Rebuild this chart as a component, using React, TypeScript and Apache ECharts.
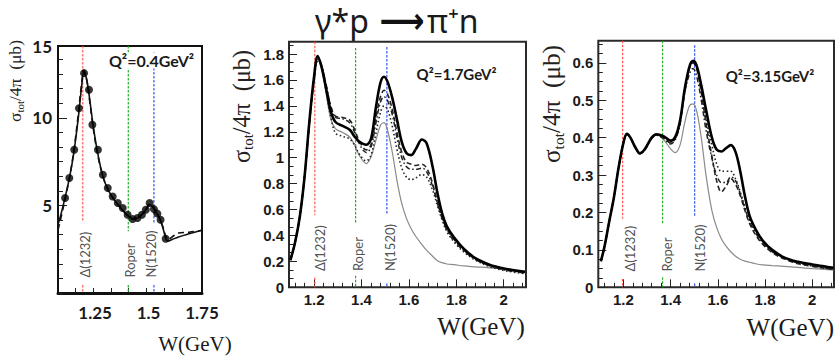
import React, { useEffect, useRef } from 'react';
import * as echarts from 'echarts';

// ---------- shared ----------
const resNames = ['Δ(1232)', 'Roper', 'N(1520)'];
const resColors = ['#ff5b4d', '#22b022', '#2f55f0'];

// ---------- left panel : Q2 = 0.4 GeV2 ----------
const leftW = [1.076, 1.09, 1.11, 1.13, 1.15, 1.17, 1.185, 1.197, 1.21, 1.225, 1.24, 1.26, 1.285, 1.31, 1.34, 1.37, 1.40, 1.43, 1.45, 1.47, 1.49, 1.505, 1.52, 1.535, 1.55, 1.565, 1.58, 1.59, 1.61, 1.64, 1.69, 1.75];
const leftSolid = [3.9, 4.5, 5.5, 6.6, 8.0, 9.9, 11.6, 12.6, 12.2, 11.0, 9.6, 8.1, 6.7, 5.9, 5.3, 4.85, 4.45, 4.22, 4.3, 4.5, 4.8, 5.05, 4.9, 4.6, 4.3, 3.8, 3.15, 2.95, 3.05, 3.2, 3.38, 3.58];
const leftDashed = [3.6, 4.3, 5.4, 6.6, 8.1, 10.1, 11.8, 12.7, 12.2, 10.9, 9.5, 8.0, 6.7, 5.9, 5.3, 4.85, 4.45, 4.2, 4.28, 4.5, 4.82, 5.1, 4.95, 4.65, 4.3, 3.85, 3.25, 3.05, 3.2, 3.42, 3.47, 3.58];
const leftDataW = [1.109, 1.129, 1.152, 1.174, 1.198, 1.221, 1.237, 1.263, 1.286, 1.309, 1.332, 1.356, 1.379, 1.402, 1.425, 1.448, 1.469, 1.487, 1.505, 1.525, 1.541, 1.556, 1.580];
const leftDataSigma = [5.42, 6.56, 8.18, 10.55, 12.55, 11.6, 9.6, 8.18, 6.75, 5.99, 5.51, 5.14, 4.85, 4.47, 4.22, 4.28, 4.47, 4.75, 5.14, 4.79, 4.53, 4.18, 3.1];
const leftRes = [1.192, 1.405, 1.525];
const leftXLabels = [1.25, 1.5, 1.75];
const leftYLabelAt = [5, 10, 14.1];
const leftYLabelText = ['5', '10', '15'];

// ---------- middle panel : Q2 = 1.7 GeV2 ----------
const midW = [1.10, 1.12, 1.14, 1.16, 1.18, 1.20, 1.215, 1.23, 1.25, 1.27, 1.29, 1.32, 1.35, 1.37, 1.39, 1.42, 1.44, 1.46, 1.48, 1.495, 1.51, 1.53, 1.55, 1.57, 1.59, 1.61, 1.63, 1.655, 1.675, 1.70, 1.72, 1.74, 1.76, 1.79, 1.83, 1.88, 1.94, 2.00, 2.05, 2.09];
const midSolid = [0.21, 0.35, 0.55, 0.86, 1.28, 1.63, 1.785, 1.71, 1.54, 1.36, 1.275, 1.245, 1.215, 1.165, 1.125, 1.10, 1.145, 1.38, 1.58, 1.625, 1.585, 1.46, 1.29, 1.12, 1.035, 1.02, 1.07, 1.14, 1.11, 0.93, 0.73, 0.57, 0.47, 0.385, 0.30, 0.225, 0.175, 0.145, 0.13, 0.12];
const midGray = [0.21, 0.35, 0.55, 0.86, 1.27, 1.61, 1.76, 1.70, 1.50, 1.30, 1.225, 1.195, 1.16, 1.10, 1.02, 0.955, 1.005, 1.13, 1.25, 1.27, 1.21, 1.04, 0.82, 0.645, 0.53, 0.45, 0.39, 0.33, 0.285, 0.24, 0.205, 0.19, 0.18, 0.175, 0.165, 0.158, 0.15, 0.14, 0.13, 0.12];
const midDashed = [0.21, 0.35, 0.55, 0.86, 1.27, 1.62, 1.77, 1.72, 1.56, 1.40, 1.32, 1.31, 1.29, 1.22, 1.13, 1.06, 1.10, 1.30, 1.47, 1.52, 1.49, 1.37, 1.19, 1.04, 0.965, 0.95, 0.94, 0.95, 0.92, 0.80, 0.66, 0.54, 0.45, 0.37, 0.29, 0.22, 0.17, 0.14, 0.125, 0.115];
const midDashDot = [0.21, 0.35, 0.55, 0.86, 1.27, 1.61, 1.76, 1.72, 1.57, 1.40, 1.31, 1.30, 1.27, 1.20, 1.11, 1.04, 1.08, 1.26, 1.43, 1.47, 1.44, 1.33, 1.15, 1.00, 0.93, 0.91, 0.91, 0.92, 0.89, 0.78, 0.65, 0.53, 0.44, 0.36, 0.285, 0.215, 0.165, 0.135, 0.12, 0.11];
const midDotted = [0.21, 0.35, 0.55, 0.86, 1.26, 1.60, 1.74, 1.71, 1.52, 1.32, 1.19, 1.165, 1.145, 1.10, 1.03, 0.975, 1.02, 1.18, 1.35, 1.40, 1.37, 1.24, 1.06, 0.92, 0.85, 0.83, 0.845, 0.87, 0.85, 0.75, 0.63, 0.52, 0.43, 0.35, 0.275, 0.21, 0.16, 0.13, 0.115, 0.105];
const midRes = [1.203, 1.375, 1.507];
const midXLabels = [1.2, 1.4, 1.6, 1.8, 2.0];
const midYLabels = [0, 0.2, 0.4, 0.6, 0.8, 1.0, 1.2, 1.4, 1.6, 1.8];

// ---------- right panel : Q2 = 3.15 GeV2 ----------
const rightW = [1.105, 1.12, 1.14, 1.16, 1.18, 1.20, 1.215, 1.23, 1.25, 1.27, 1.29, 1.32, 1.34, 1.37, 1.40, 1.42, 1.44, 1.46, 1.48, 1.495, 1.51, 1.53, 1.55, 1.575, 1.595, 1.615, 1.635, 1.655, 1.675, 1.695, 1.715, 1.735, 1.76, 1.79, 1.83, 1.88, 1.94, 2.00, 2.05, 2.09];
const rightSolid = [0.07, 0.108, 0.175, 0.24, 0.32, 0.385, 0.41, 0.40, 0.375, 0.358, 0.368, 0.40, 0.409, 0.404, 0.392, 0.402, 0.445, 0.53, 0.59, 0.605, 0.593, 0.54, 0.475, 0.40, 0.368, 0.363, 0.372, 0.38, 0.362, 0.31, 0.243, 0.19, 0.155, 0.125, 0.10, 0.08, 0.068, 0.061, 0.056, 0.052];
const rightGray = [0.07, 0.108, 0.175, 0.24, 0.32, 0.385, 0.408, 0.40, 0.375, 0.36, 0.37, 0.40, 0.407, 0.395, 0.37, 0.36, 0.38, 0.44, 0.485, 0.49, 0.472, 0.40, 0.30, 0.205, 0.16, 0.13, 0.11, 0.095, 0.083, 0.075, 0.07, 0.067, 0.063, 0.06, 0.058, 0.056, 0.053, 0.05, 0.048, 0.046];
const rightDashed = [0.07, 0.108, 0.175, 0.24, 0.32, 0.385, 0.41, 0.40, 0.374, 0.357, 0.367, 0.399, 0.407, 0.40, 0.386, 0.398, 0.44, 0.525, 0.585, 0.60, 0.585, 0.52, 0.44, 0.35, 0.285, 0.255, 0.27, 0.29, 0.275, 0.245, 0.205, 0.17, 0.14, 0.115, 0.093, 0.076, 0.063, 0.056, 0.051, 0.048];
const rightDashDot = [0.07, 0.108, 0.175, 0.24, 0.32, 0.385, 0.41, 0.40, 0.374, 0.357, 0.366, 0.398, 0.406, 0.398, 0.383, 0.395, 0.435, 0.52, 0.57, 0.585, 0.565, 0.50, 0.42, 0.345, 0.30, 0.28, 0.28, 0.295, 0.285, 0.25, 0.21, 0.175, 0.145, 0.118, 0.095, 0.078, 0.065, 0.057, 0.052, 0.049];
const rightDotted = [0.07, 0.108, 0.175, 0.24, 0.32, 0.385, 0.41, 0.40, 0.375, 0.358, 0.368, 0.40, 0.408, 0.401, 0.388, 0.40, 0.443, 0.53, 0.59, 0.60, 0.59, 0.53, 0.45, 0.38, 0.33, 0.31, 0.31, 0.31, 0.29, 0.255, 0.215, 0.18, 0.15, 0.122, 0.098, 0.08, 0.067, 0.059, 0.054, 0.051];
const rightRes = [1.197, 1.366, 1.502];
const rightXLabels = [1.2, 1.4, 1.6, 1.8, 2.0];
const rightYLabels = [0, 0.1, 0.2, 0.3, 0.4, 0.5, 0.6];

// ---------- helpers ----------
const zip = (xs: number[], ys: number[]) => xs.map((x, i) => [x, ys[i]]);
const steps = (a: number, b: number, s: number) => {
  const out: number[] = [];
  for (let i = 0; a + i * s <= b + 1e-9; i++) out.push(+(a + i * s).toFixed(4));
  return out;
};
const fmt1 = (v: number) => String(parseFloat(Number(v).toFixed(2)));

const TICK = '#222';
const BOLD_SANS = '"Liberation Sans", Arial, sans-serif';
const CAL = 'Lato, "Noto Sans", "DejaVu Sans", sans-serif';
const SERIF = '"Liberation Serif", "DejaVu Serif", serif';
const NOTO = '"Noto Sans", "DejaVu Sans", sans-serif';

let measureCtx: CanvasRenderingContext2D | null = null;
function measure(text: string, size: number, family: string, weight = 'normal') {
  if (!measureCtx) measureCtx = document.createElement('canvas').getContext('2d');
  if (!measureCtx) return text.length * size * 0.5;
  measureCtx.font = `${weight} ${size}px ${family}`;
  return measureCtx.measureText(text).width;
}

function xAxisPair(grid: number, min: number, max: number, labels: number[], majorTicks: number[], minorTicks: number[], o: any) {
  return [
    {
      type: 'value', gridIndex: grid, min, max, position: 'bottom',
      axisLine: { show: !!o.lineWidth, onZero: false, lineStyle: { color: '#111', width: o.lineWidth || 1 } },
      axisTick: { show: true, inside: true, length: o.majorLen, customValues: majorTicks, lineStyle: { color: TICK, width: 1 } },
      axisLabel: { customValues: labels, formatter: o.fmt || fmt1, fontSize: o.fontSize, fontWeight: 'bold', fontFamily: o.font, color: '#1a1a1a', margin: o.margin },
      splitLine: { show: false },
    },
    {
      type: 'value', gridIndex: grid, min, max, position: 'bottom',
      axisLine: { show: false },
      axisTick: { show: minorTicks.length > 0, inside: true, length: o.minorLen, customValues: minorTicks, lineStyle: { color: TICK, width: 1 } },
      axisLabel: { show: false },
      splitLine: { show: false },
    },
  ];
}

function yAxisPair(grid: number, min: number, max: number, labels: number[], majorTicks: number[], minorTicks: number[], o: any) {
  return [
    {
      type: 'value', gridIndex: grid, min, max, position: 'left',
      axisLine: { show: false },
      axisTick: { show: true, inside: true, length: o.majorLen, customValues: majorTicks, lineStyle: { color: TICK, width: 1 } },
      axisLabel: { customValues: labels, formatter: o.fmt || fmt1, fontSize: o.fontSize, fontWeight: 'bold', fontFamily: o.font, color: '#1a1a1a', margin: o.margin },
      splitLine: { show: false },
    },
    {
      type: 'value', gridIndex: grid, min, max, position: 'left',
      axisLine: { show: false },
      axisTick: { show: true, inside: true, length: o.minorLen, customValues: minorTicks, lineStyle: { color: TICK, width: 1 } },
      axisLabel: { show: false },
      splitLine: { show: false },
    },
  ];
}

// rotated y-axis title "σ_tot/4π (μb)", fitted to a given length, centred at (cx, cy)
function yTitle(cx: number, cy: number, length: number) {
  const u = 100;
  const w1 = measure('σ', u, SERIF);
  const w2 = measure('tot', u * 0.62, SERIF);
  const w3 = measure('/4π  (μb)', u, SERIF);
  const k = length / (w1 + w2 + w3);
  const size = u * k;
  const x0 = -length / 2;
  const t = (x: number, y: number, text: string, fs: number) => ({
    type: 'text', x, y,
    style: { text, fontSize: fs, fontFamily: SERIF, fill: '#222', align: 'left', verticalAlign: 'middle' },
  });
  return {
    type: 'group', x: cx, y: cy, rotation: Math.PI / 2,
    children: [
      t(x0, 0, 'σ', size),
      t(x0 + w1 * k, size * 0.3, 'tot', size * 0.62),
      t(x0 + (w1 + w2) * k, 0, '/4π  (μb)', size),
    ],
  };
}

function resLines(axis: number, res: number[], tops: number[], gaps: number[][]) {
  const seg = (i: number, a: number, b: number) => ({
    type: 'line', xAxisIndex: axis, yAxisIndex: axis, silent: true, z: 1,
    symbol: 'none', showSymbol: false,
    data: [[res[i], a], [res[i], b]],
    lineStyle: { color: resColors[i], width: 1.2, type: [2.5, 1.5] },
  });
  return res.flatMap((_, i) => [seg(i, tops[i], gaps[i][1]), seg(i, gaps[i][0], 0)]);
}

function resLabels(axis: number, labelW: number[], labelBase: number, fontSize: number) {
  return {
    type: 'scatter', xAxisIndex: axis, yAxisIndex: axis, silent: true, z: 2,
    symbolSize: 1, itemStyle: { color: 'rgba(0,0,0,0)' },
    data: resNames.map((n, i) => ({ name: n, value: [labelW[i], labelBase] })),
    label: {
      show: true, formatter: '{b}', position: 'inside', rotate: 90, align: 'left', verticalAlign: 'middle',
      fontSize, fontFamily: CAL, color: '#222',
    },
  };
}

function curve(axis: number, xs: number[], ys: number[], style: any, z = 3) {
  return {
    type: 'line', xAxisIndex: axis, yAxisIndex: axis, data: zip(xs, ys), showSymbol: false, symbol: 'none', smooth: 0.35,
    lineStyle: style, z, silent: true,
  };
}

function plainText(x: number, y: number, text: string, size: number, font: string, weight: string, align = 'center', bg?: string) {
  return {
    type: 'text', x, y, z: 10,
    style: { text, fontSize: size, fontFamily: font, fontWeight: weight, fill: '#1a1a1a', align, verticalAlign: 'middle', backgroundColor: bg },
  };
}

export default function App() {
  const ref = useRef<HTMLDivElement>(null);
  useEffect(() => {
    if (!ref.current) return;
    const chart = echarts.init(ref.current, undefined, { renderer: 'svg' });

    const leftX = xAxisPair(0, 1.076, 1.75, leftXLabels, [1.157, 1.24, 1.323, 1.406, 1.49, 1.573, 1.656], [], {
      lineWidth: 3, majorLen: 5, minorLen: 3, fontSize: 17, font: CAL, margin: 11, fmt: (v: number) => String(v),
    });
    const leftY = yAxisPair(0, 0, 14.1, leftYLabelAt, [5, 10], steps(0, 14, 5 / 6), {
      majorLen: 9, minorLen: 5, fontSize: 17, font: CAL, margin: 6,
      fmt: (v: number) => leftYLabelText[leftYLabelAt.findIndex((t) => Math.abs(t - v) < 1e-6)] ?? '',
    });
    const midX = xAxisPair(1, 1.094, 2.094, midXLabels, midXLabels, steps(1.12, 2.08, 0.04), {
      majorLen: 8, minorLen: 4.5, fontSize: 15, font: BOLD_SANS, margin: 5,
    });
    const midY = yAxisPair(1, 0, 1.895, midYLabels, midYLabels, steps(0, 1.87, 0.2 / 3), {
      majorLen: 8, minorLen: 4.5, fontSize: 15, font: BOLD_SANS, margin: 5,
    });
    const rightX = xAxisPair(2, 1.094, 2.092, rightXLabels, rightXLabels, steps(1.12, 2.08, 0.04), {
      majorLen: 8, minorLen: 4.5, fontSize: 15, font: BOLD_SANS, margin: 5,
    });
    const rightY = yAxisPair(2, 0, 0.659, rightYLabels, rightYLabels, steps(0, 0.65, 0.025), {
      majorLen: 8, minorLen: 4.5, fontSize: 15, font: BOLD_SANS, margin: 5,
    });

    const titleSize = 32;
    const wArrow = measure('⟶', titleSize + 4, '"DejaVu Sans", sans-serif', 'bold');

    const option: any = {
      animation: false,
      backgroundColor: '#fff',
      grid: [
        { left: 58, top: 46, width: 144, height: 247, show: true, borderColor: '#111', borderWidth: 2, backgroundColor: '#fff' },
        { left: 289, top: 41.7, width: 237, height: 245.6, show: true, borderColor: '#2a2a2a', borderWidth: 2, backgroundColor: '#fff' },
        { left: 598.3, top: 40.7, width: 235.7, height: 246.6, show: true, borderColor: '#2a2a2a', borderWidth: 2, backgroundColor: '#fff' },
      ],
      // indices: 0 left, 1 left-minor, 2 mid, 3 mid-minor, 4 right, 5 right-minor
      xAxis: [...leftX, ...midX, ...rightX],
      yAxis: [...leftY, ...midY, ...rightY],
      series: [
        // left
        ...resLines(0, leftRes, [14.1, 14.1, 13.76], [[0.45, 4.07], [0.45, 3.52], [0.45, 4.0]]),
        resLabels(0, [1.201, 1.413, 1.51], 0.88, 13),
        curve(0, leftW, leftDashed, { color: '#111', width: 1.6, type: [6, 4] }),
        curve(0, leftW, leftSolid, { color: '#111', width: 1.6 }),
        {
          type: 'scatter', xAxisIndex: 0, yAxisIndex: 0, data: zip(leftDataW, leftDataSigma), symbolSize: 8,
          itemStyle: { color: '#000' }, z: 5, silent: true,
        },
        // middle
        ...resLines(2, midRes, [1.895, 1.847, 1.855], [[0.075, 0.555], [0.09, 0.5], [0.03, 0.57]]),
        resLabels(2, [1.224, 1.386, 1.52], 0.125, 13),
        curve(2, midW, midGray, { color: '#8a8a8a', width: 1.2 }),
        curve(2, midW, midDotted, { color: '#222', width: 1.6, type: [1.5, 2.5] }),
        curve(2, midW, midDashDot, { color: '#222', width: 1.5, type: [5, 2.5, 1.5, 2.5] }),
        curve(2, midW, midDashed, { color: '#222', width: 1.6, type: [5, 3] }),
        curve(2, midW, midSolid, { color: '#000', width: 2.6 }, 4),
        // right
        ...resLines(4, rightRes, [0.659, 0.659, 0.647], [[0.022, 0.183], [0.027, 0.171], [0.01, 0.1875]]),
        resLabels(4, [1.228, 1.384, 1.525], 0.042, 13),
        curve(4, rightW, rightGray, { color: '#8a8a8a', width: 1.2 }),
        curve(4, rightW, rightDotted, { color: '#222', width: 1.6, type: [1.5, 2.5] }),
        curve(4, rightW, rightDashDot, { color: '#222', width: 1.5, type: [5, 2.5, 1.5, 2.5] }),
        curve(4, rightW, rightDashed, { color: '#222', width: 1.6, type: [5, 3] }),
        curve(4, rightW, rightSolid, { color: '#000', width: 2.6 }, 4),
      ],
      graphic: [
        plainText(315, 20, 'γ*p', titleSize, NOTO, 'normal', 'left'),
        {
          type: 'text', x: 402, y: 21, scaleX: 45 / Math.max(wArrow, 1),
          style: { text: '⟶', fontSize: titleSize + 4, fontFamily: '"DejaVu Sans", sans-serif', fontWeight: 'bold', fill: '#111', align: 'center', verticalAlign: 'middle' },
        },
        plainText(427, 20, 'π⁺n', titleSize, NOTO, 'normal', 'left'),
        yTitle(15, 81, 82),
        yTitle(241, 106.5, 113),
        yTitle(551, 104, 118),
        plainText(195, 344, 'W(GeV)', 21, SERIF, 'normal'),
        plainText(481, 326.5, 'W(GeV)', 25, SERIF, 'normal'),
        plainText(834, 327.5, 'W(GeV)', 25, SERIF, 'normal', 'right'),
        plainText(151.5, 60.5, 'Q²=0.4GeV²', 16, CAL, 'bold', 'center', '#fff'),
        plainText(456.5, 74, 'Q²=1.7GeV²', 15, CAL, 'bold'),
        plainText(770, 76, 'Q²=3.15GeV²', 15, CAL, 'bold'),
      ],
    };
    chart.setOption(option);
    return () => chart.dispose();
  }, []);
  return <div ref={ref} style={{ position: 'absolute', left: 0, top: 0, width: 835, height: 356, background: '#fff' }} />;
}
